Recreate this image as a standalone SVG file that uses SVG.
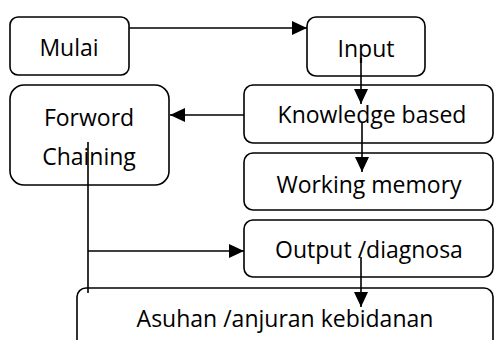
<svg xmlns="http://www.w3.org/2000/svg" width="495" height="340" viewBox="0 0 495 340">
<style>
.box{fill:#fff;stroke:#000;stroke-width:1.6}
.t{font-family:"Open Sans","Noto Sans",sans-serif;font-size:23px;fill:#000;text-anchor:middle}
.c{stroke:#000;stroke-width:1.6;fill:none}
</style>
<defs>
<marker id="ah" markerWidth="15" markerHeight="14" refX="15" refY="7" orient="auto" markerUnits="userSpaceOnUse">
<path d="M0,0 L15,7 L0,14 Z" fill="#000"/>
</marker>
</defs>
<rect width="495" height="340" fill="#fff"/>
<g id="mulai"><rect class="box" x="10" y="17" width="119" height="58" rx="8"/><text class="t" x="69" y="56">Mulai</text></g>
<g id="input"><rect class="box" x="307" y="17" width="118" height="59" rx="9"/><text class="t" x="366" y="57">Input</text></g>
<g id="forword"><rect class="box" x="10" y="85" width="159" height="100" rx="14"/><text class="t" x="89" y="126">Forword</text><text class="t" x="89" y="165">Chaining</text></g>
<g id="knowledge"><rect class="box" x="244" y="85" width="249" height="58" rx="9"/><text class="t" x="372" y="123">Knowledge based</text></g>
<g id="working"><rect class="box" x="244" y="153" width="249" height="57" rx="9"/><text class="t" x="369" y="193">Working memory</text></g>
<g id="output"><rect class="box" x="244" y="220" width="249" height="57" rx="9"/><text class="t" x="369" y="258">Output /diagnosa</text></g>
<g id="asuhan"><rect class="box" x="77" y="288" width="416" height="70" rx="9"/><text class="t" x="285" y="327">Asuhan /anjuran kebidanan</text></g>
<g id="connectors">
<path class="c" d="M129,28 H307" marker-end="url(#ah)"/>
<path class="c" d="M361,58 V104" marker-end="url(#ah)"/>
<path class="c" d="M362,122 V172" marker-end="url(#ah)"/>
<path class="c" d="M244,115 H170" marker-end="url(#ah)"/>
<path class="c" d="M88,142 V293"/>
<path class="c" d="M88,251 H244" marker-end="url(#ah)"/>
<path class="c" d="M361,257 V307" marker-end="url(#ah)"/>
</g>
</svg>
